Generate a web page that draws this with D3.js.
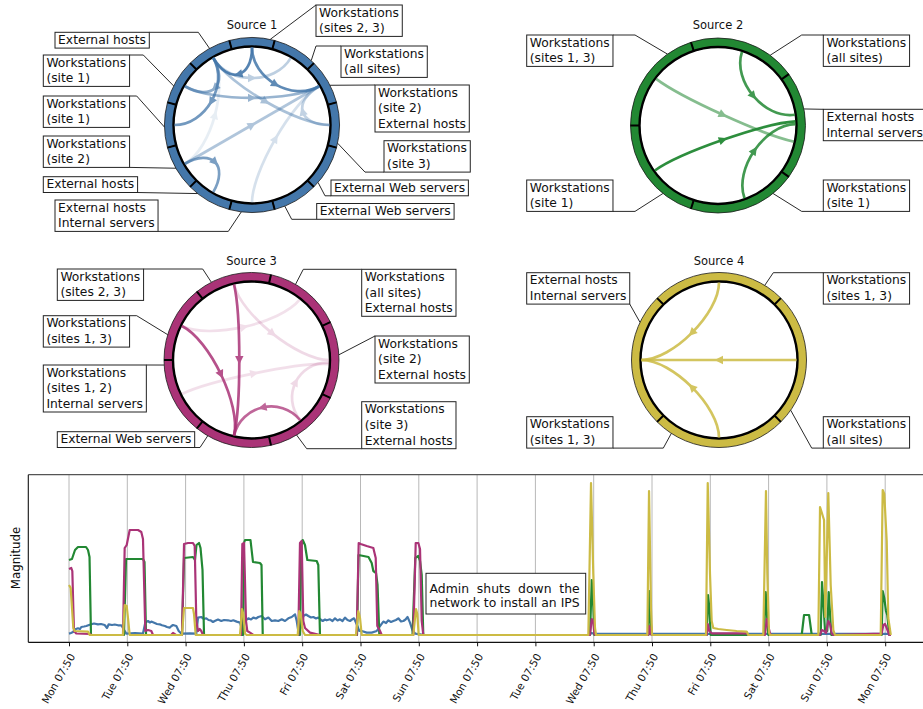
<!DOCTYPE html>
<html><head><meta charset="utf-8">
<script src="https://cdn.jsdelivr.net/npm/d3@7"></script>
<style>
body{margin:0;background:#fff}
svg{display:block;font-family:"DejaVu Sans",sans-serif}
</style>
</head><body>
<svg id="c" width="923" height="709"></svg>
<script>
// ================= DATA =================
const sourceTitles = ["Source 1","Source 2","Source 3","Source 4"];
const sourceColors = ["#4477AA","#228833","#AA3377","#CCBB44"];

// ring segment labels, clockwise from the top segment ("|" = line break)
const ringLabels1 = ["Workstations|(sites 2, 3)","Workstations|(all sites)","Workstations|(site 2)|External hosts",
  "Workstations|(site 3)","External Web servers","External Web servers","External hosts|Internal servers",
  "External hosts","Workstations|(site 2)","Workstations|(site 1)","Workstations|(site 1)","External hosts"];
const ringLabels2 = ["Workstations|(all sites)","External hosts|Internal servers","Workstations|(site 1)",
  "Workstations|(site 1)","Workstations|(sites 1, 3)"];
const ringLabels3 = ["Workstations|(sites 2, 3)","Workstations|(all sites)|External hosts","Workstations|(site 2)|External hosts",
  "Workstations|(site 3)|External hosts","External Web servers","Workstations|(sites 1, 2)|Internal servers","Workstations|(sites 1, 3)"];
const ringLabels4 = ["Workstations|(sites 1, 3)","Workstations|(all sites)","Workstations|(sites 1, 3)","External hosts|Internal servers"];

// flows: [from angle (deg), to angle (deg), strength 0..1]
const flows1 = [[240,330,0.12],[180,60,0.22],[90,60,0.32],[330,30,0.35],[240,60,0.42],[330,90,0.45],
  [300,60,0.55],[330,300,0.6],[240,210,0.7],[330,270,0.75],[0,60,0.85],[0,330,0.9]];
const flows2 = [[307,102,0.55],[18,82,0.85],[160,89,0.85],[234.5,87,0.95]];
const flows3 = [[296,38.6,0.15],[347,90,0.18],[244,93,0.15],[141,92,0.18],[141,193,0.75],[296,193,0.85],[347,193,0.85]];
const flows4 = [[0,270,0.85],[90,270,0.85],[180,270,0.85]];

// time series: [days since first Mon 07:50, magnitude]
const dayNames = ["Mon","Tue","Wed","Thu","Fri","Sat","Sun","Mon","Tue","Wed","Thu","Fri","Sat","Sun","Mon"];
const tickClock = "07:50";
const tickDays = [0,1,2,3,4,5,6,7,8,9,10,11,12,13,14];
const yLabel = "Magnitude";
const annotationLines = ["Admin shuts down the","network to install an IPS"];

const seriesSource1 = [[0,1.4],[0.034,2],[0.069,3],[0.108,5.7],[0.154,6.7],[0.189,6],[0.211,8],[0.257,8.5],[0.297,9],
 [0.343,10],[0.383,10.7],[0.429,11.5],[0.497,10.7],[0.549,11],[0.612,10],[0.652,7],[0.681,10.7],[0.738,10],[0.784,10.5],
 [0.84,9.7],[0.897,9.7],[0.938,5.7],[0.983,1.4],[1.132,2],[1.269,1.4],[1.309,12.4],[1.355,14],[1.389,12.5],[1.412,13.4],
 [1.47,12],[1.509,11],[1.556,10.7],[1.595,9.7],[1.646,9],[1.681,8],[1.727,7.4],[1.758,9],[1.784,10],[1.841,9],[1.882,4],
 [1.926,1.4],[2.076,1.6],[2.184,1.4],[2.213,17.4],[2.269,18],[2.316,16],[2.355,16.7],[2.393,15],[2.431,14.7],[2.47,13],
 [2.499,14],[2.556,15.5],[2.612,14],[2.659,15],[2.727,14.7],[2.779,14],[2.818,14.7],[2.876,13.4],[2.933,12.4],[2.98,3.4],
 [3.019,14],[3.076,16.7],[3.122,15.5],[3.161,17.4],[3.208,16.5],[3.247,18],[3.305,19],[3.362,15.7],[3.42,17.4],[3.477,14],
 [3.534,14.7],[3.59,14],[3.649,15.7],[3.705,14],[3.762,16.7],[3.82,18],[3.877,20.7],[3.906,14],[3.933,4],[3.974,7.4],
 [4.019,19],[4.065,20.5],[4.105,19],[4.151,17.5],[4.191,18],[4.237,16.5],[4.276,17.4],[4.314,15.5],[4.352,14],[4.391,15.5],
 [4.42,14.7],[4.477,15.7],[4.52,14],[4.563,16.7],[4.606,14.5],[4.648,15.7],[4.691,14],[4.734,17.4],[4.777,15],[4.82,14],
 [4.854,15.5],[4.889,16.7],[4.935,10.7],[4.98,4],[5.021,4],[5.106,2.4],[5.192,2.4],[5.278,4],[5.335,9],[5.392,13.4],
 [5.438,12],[5.478,14.7],[5.523,13],[5.563,14],[5.609,15],[5.649,16.7],[5.695,13.5],[5.735,14],[5.772,15.5],[5.807,18],
 [5.849,12.4],[5.895,4],[5.94,1.4],[6.021,0.7],[6.107,0],[8.903,0],[8.937,1],[8.962,2],[9.005,1.2],[14.1,1.2]];

const seriesSource2 = [[0,75],[0.051,76],[0.103,85],[0.154,88],[0.292,88],[0.326,85],[0.352,78],[0.377,0],
 [0.943,0],[0.978,76],[1.269,76],[1.295,73],[1.321,0],
 [1.938,0],[1.973,77],[2.127,78],[2.161,75],[2.187,90],[2.23,92],[2.256,87],[2.29,65],[2.316,0],
 [2.985,0],[3.002,92],[3.019,95],[3.113,95],[3.156,73],[3.276,72],[3.302,70],[3.323,0],
 [3.962,0],[3.985,90],[4.009,95],[4.048,90],[4.088,75],[4.249,74],[4.276,70],[4.305,0],
 [4.94,0],[4.966,80],[5.137,78],[5.192,72],[5.22,64],[5.266,62],[5.292,50],[5.323,0],
 [5.892,0],[5.94,77],[5.992,79],[6.021,74],[6.05,60],[6.077,0],
 [8.937,0],[8.966,55],[8.993,28],[9.01,0],
 [9.937,0],[9.954,44],[9.978,14],[9.995,0],
 [10.939,0],[10.961,40],[10.983,28],[11.007,0],
 [11.921,0],[11.951,43],[11.978,15],[11.995,0],
 [12.568,0],[12.608,20],[12.694,20],[12.74,0],
 [12.894,0],[12.916,53],[12.938,34],[12.968,4],[13.007,4],[13.031,43],[13.054,21],[13.076,0],
 [13.94,0],[13.957,44],[13.984,37],[14.013,24],[14.035,20],[14.07,0],[14.1,0]];

const seriesSource3 = [[0,66],[0.039,67],[0.057,64],[0.074,27],[0.086,4],[0.125,1.5],[0.355,1],[0.383,0],
 [0.926,0],[0.955,87],[0.99,90],[1.041,105],[1.184,105],[1.24,103],[1.269,96],[1.309,4],[1.355,5],[1.412,4],[1.441,0],
 [1.75,0],[1.784,2],[1.835,0],
 [1.938,0],[1.973,91],[2.041,92],[2.127,92],[2.156,89],[2.184,14],[2.213,4],[2.242,6],[2.269,4],[2.299,0],
 [2.95,0],[2.973,91],[3.002,92],[3.036,14],[3.058,4],[3.105,2.4],[3.161,0],
 [3.933,0],[3.962,92],[3.991,94],[4.019,14],[4.048,7],[4.134,2.4],[4.305,0],
 [4.935,0],[4.969,92],[5.003,91],[5.106,89],[5.22,87],[5.261,77],[5.288,9],[5.335,4],[5.364,0],
 [5.906,0],[5.947,92],[5.992,92],[6.021,86],[6.05,14],[6.077,0],
 [8.937,0],[8.966,16],[8.993,14],[9.01,1.4],[9.028,0],
 [9.937,0],[9.954,9],[9.978,1.4],[9.995,0],
 [10.939,0],[10.956,11],[10.983,4],[11.024,1.7],[11.624,1.7],[11.652,0],
 [11.938,0],[11.968,16],[11.995,9],[12.024,1.4],[12.053,0],
 [12.882,0],[12.911,5],[12.951,4],[12.985,2],[13.024,14],[13.054,11],[13.083,1.4],[13.11,0],
 [13.94,1.4],[13.968,10],[13.997,11],[14.026,7],[14.07,0],[14.1,0]];

const seriesSource4 = [[0,50],[0.029,47],[0.051,27],[0.074,7],[0.098,4],[0.326,3.4],[0.355,0],
 [0.926,0],[0.955,30],[0.99,29],[1.012,17],[1.041,0],
 [1.938,0],[1.973,27],[2.041,27],[2.127,27],[2.144,21],[2.173,0],
 [2.933,0],[2.967,26],[2.99,21],[3.019,1.4],[3.048,0],
 [3.923,0],[3.95,24],[3.974,21],[4.009,4],[4.048,0],
 [4.923,0],[4.962,24],[4.992,17],[5.021,0],
 [5.906,0],[5.952,26],[5.974,21],[5.998,0],
 [8.908,0],[8.954,152],[8.993,61],[9.022,7],[9.04,0],
 [9.92,0],[9.949,144],[9.983,27],[10.001,0],
 [10.926,0],[10.956,152],[10.995,61],[11.024,14],[11.051,7],[11.137,6],[11.281,5],[11.453,4],[11.624,3.4],[11.652,0],
 [11.909,0],[11.955,144],[11.978,61],[12.007,2.4],[12.024,0],
 [12.853,0],[12.882,128],[12.951,115],[12.973,18],[13.024,142],[13.065,50],[13.11,5],[13.139,0],
 [13.923,0],[13.957,145],[13.984,141],[14.026,94],[14.053,17],[14.096,0]];

// ================= LAYOUT =================
// label box layout per segment: [boxLeft, boxTop, attach corner, knee x (or null), ring angle]
const labelLayout1 = [[316,5,"tl",null,12],[341,46,"tl",316,42.6],[375,85,"tl",null,63],[384,140.7,"bl",365,102],
  [331,180,"bl",325,131],[316.7,203.5,"bl",291.7,158],[55,200,"br",228.3,187],[43.3,176.7,"br",null,218.4],
  [43.3,136,"br",null,240.4],[43.3,96,"tr",136.7,268.6],[43.3,55,"tr",143.3,296.5],[55,32.3,"tr",198.3,331]];
const labelLayout2 = [[823.3,35,"tl",801.7,36.6],[823.3,109.3,"tl",null,79.1],[823.3,180,"bl",801.7,141],
  [526.7,180,"br",635,219],[526.7,35,"tr",635,324.7]];
const labelLayout3 = [[57.3,269,"tr",202.7,332.7],[361.7,269.3,"tl",303.3,30.2],[375,336,"tl",null,86.6],
  [361.7,401.7,"bl",306.7,149],[57.3,431.7,"br",200,210],[43.3,365,"tr",null,266.7],[43.3,315.7,"tr",136.7,286.8]];
const labelLayout4 = [[823.3,272.7,"tl",773.3,31.5],[823.3,416.7,"bl",811.7,125],[526.7,416.7,"br",663.3,213],
  [526.7,272.7,"br",null,295.5]];

const circles = [
  {cx:252, cy:125, titleY:29, startDiv:-15, labels:ringLabels1, layout:labelLayout1, flows:flows1},
  {cx:718, cy:125.5, titleY:29, startDiv:-18, labels:ringLabels2, layout:labelLayout2, flows:flows2},
  {cx:251.5, cy:360, titleY:264.5, startDiv:-38.571, labels:ringLabels3, layout:labelLayout3, flows:flows3},
  {cx:719, cy:360, titleY:264.5, startDiv:-45, labels:ringLabels4, layout:labelLayout4, flows:flows4}
];

const svg = d3.select("#c");
const R_OUT = 87.5, R_IN = 78.5, R_EDGE = 77.5, K = 0.6;
const rad = d => d*Math.PI/180;

function drawChord(c, idx){
  const color = sourceColors[idx];
  const g = svg.append("g");
  const pt = (a,r) => [c.cx + r*Math.sin(rad(a)), c.cy - r*Math.cos(rad(a))];
  const n = c.labels.length, step = 360/n;

  g.append("text").attr("x",c.cx).attr("y",c.titleY).attr("text-anchor","middle")
    .attr("font-size","11.5px").attr("fill","#111").text(sourceTitles[idx]);

  const leadG = g.append("g"), boxG = g.append("g");
  c.layout.forEach((L,i) => {
    const [bx,by,corner,knee,ang] = L;
    const lines = c.labels[i].split("|");
    const lg = boxG.append("g");
    const texts = lines.map((s,j) => lg.append("text").attr("x",bx+3.1).attr("y",by+11.7+j*15.6)
        .attr("font-size","12.3px").attr("fill","#111").text(s));
    const w = d3.max(texts, t => t.node().getComputedTextLength()) + 6.4;
    const h = lines.length*15.6 + 0.2;
    lg.insert("rect","text").attr("x",bx).attr("y",by).attr("width",w).attr("height",h)
      .attr("fill","#fff").attr("stroke","#222").attr("stroke-width",1);
    const px = corner[1]==="l" ? bx : bx+w;
    const py = corner[0]==="t" ? by : by+h;
    const pts = [[px,py]];
    if (knee !== null) pts.push([knee,py]);
    pts.push(pt(ang,R_OUT));
    leadG.append("polyline").attr("points",pts.map(p=>p.join(",")).join(" "))
      .attr("fill","none").attr("stroke","#111").attr("stroke-width",0.9);
  });

  const arc = d3.arc().innerRadius(R_IN).outerRadius(R_OUT);
  const segs = d3.range(n).map(i => ({startAngle: rad(c.startDiv + i*step), endAngle: rad(c.startDiv + (i+1)*step)}));
  const ring = g.append("g").attr("transform",`translate(${c.cx},${c.cy})`);
  ring.selectAll("path.seg").data(segs).join("path").attr("class","seg").attr("d",arc)
    .attr("fill",color).attr("stroke","#1a1a1a").attr("stroke-width",0.8);
  ring.append("circle").attr("r",R_IN).attr("fill","none").attr("stroke","#000").attr("stroke-width",2.4);
  ring.selectAll("line.div").data(segs).join("line").attr("class","div")
    .attr("x1",d=>R_IN*Math.sin(d.startAngle)).attr("y1",d=>-R_IN*Math.cos(d.startAngle))
    .attr("x2",d=>R_OUT*Math.sin(d.startAngle)).attr("y2",d=>-R_OUT*Math.cos(d.startAngle))
    .attr("stroke","#000").attr("stroke-width",2);

  const fg = g.append("g");
  c.flows.forEach(f => {
    const [a0,a1,s] = f;
    const A = pt(a0,R_EDGE), B = pt(a1,R_EDGE);
    const P1 = [c.cx + K*(A[0]-c.cx), c.cy + K*(A[1]-c.cy)];
    const P2 = [c.cx + K*(B[0]-c.cx), c.cy + K*(B[1]-c.cy)];
    const eg = fg.append("g").attr("opacity", s);
    eg.append("path").attr("d",`M${A}C${P1} ${P2} ${B}`).attr("fill","none")
      .attr("stroke",color).attr("stroke-width",2.7);
    const m = [(A[0]+3*P1[0]+3*P2[0]+B[0])/8, (A[1]+3*P1[1]+3*P2[1]+B[1])/8];
    let tx = B[0]+P2[0]-P1[0]-A[0], ty = B[1]+P2[1]-P1[1]-A[1];
    const L = Math.hypot(tx,ty); tx/=L; ty/=L;
    const nx = -ty, ny = tx;
    const tip = [m[0]+tx*4.5, m[1]+ty*4.5];
    const b1 = [m[0]-tx*4+nx*4.2, m[1]-ty*4+ny*4.2];
    const b2 = [m[0]-tx*4-nx*4.2, m[1]-ty*4-ny*4.2];
    eg.append("path").attr("d",`M${tip}L${b1}L${b2}Z`).attr("fill",color);
  });
}
circles.forEach(drawChord);

// ================= TIME SERIES =================
const plot = {left:28.3, right:935, top:474.7, bottom:642.3};
const x = d3.scaleLinear().domain([0,14]).range([69,885.2]);
const y = d3.scaleLinear().domain([-7.3,160.3]).range([plot.bottom, plot.top]);
const ts = svg.append("g");
svg.append("defs").append("clipPath").attr("id","pc").append("rect")
  .attr("x",plot.left).attr("y",plot.top).attr("width",plot.right-plot.left).attr("height",plot.bottom-plot.top);

ts.append("g").selectAll("line").data(tickDays).join("line")
  .attr("x1",d=>x(d)).attr("x2",d=>x(d)).attr("y1",plot.top).attr("y2",plot.bottom)
  .attr("stroke","#b8b8b8").attr("stroke-width",1);

const line = d3.line().x(d=>x(d[0])).y(d=>y(d[1]));
const sg = ts.append("g").attr("clip-path","url(#pc)");
[seriesSource1, seriesSource2, seriesSource3, seriesSource4].forEach((s,i) => {
  sg.append("path").datum(s).attr("d",line).attr("fill","none").attr("stroke",sourceColors[i])
    .attr("stroke-width",2.2).attr("stroke-linejoin","round");
});

ts.append("line").attr("x1",plot.left).attr("x2",plot.right).attr("y1",plot.top).attr("y2",plot.top)
  .attr("stroke","#555").attr("stroke-width",1.2);
ts.append("line").attr("x1",plot.left).attr("x2",plot.left).attr("y1",plot.top).attr("y2",plot.bottom)
  .attr("stroke","#111").attr("stroke-width",1.1);
ts.append("line").attr("x1",plot.left).attr("x2",plot.right).attr("y1",plot.bottom).attr("y2",plot.bottom)
  .attr("stroke","#111").attr("stroke-width",1.3);

const ax = ts.append("g").attr("transform",`translate(0,${plot.bottom})`)
  .call(d3.axisBottom(x).tickValues(tickDays).tickSize(4).tickFormat(i => dayNames[i]+" "+tickClock));
ax.select(".domain").remove();
ax.selectAll(".tick line").attr("stroke","#111");
ax.selectAll(".tick text").attr("x",0).attr("y",0).attr("dy",0)
  .attr("text-anchor","end").attr("transform","translate(6,14) rotate(-60)")
  .attr("font-size","10.5px").attr("font-family","DejaVu Sans").attr("fill","#111");

ts.append("text").attr("transform","translate(19.5,558) rotate(-90)").attr("text-anchor","middle")
  .attr("font-size","11.8px").attr("fill","#111").text(yLabel);

const an = ts.append("g");
an.append("rect").attr("x",426).attr("y",573.3).attr("width",159.7).attr("height",40.7)
  .attr("fill","#fff").attr("stroke","#222").attr("stroke-width",1);
const ax0 = 429.6;
const l2 = an.append("text").attr("x",ax0).attr("y",606.8).attr("font-size","12.4px").attr("fill","#111").text(annotationLines[1]);
const fullW = l2.node().getComputedTextLength();
const words = annotationLines[0].split(" ");
const wEls = words.map(wd => an.append("text").attr("y",593.2).attr("font-size","12.4px").attr("fill","#111").text(wd));
const ww = wEls.map(e => e.node().getComputedTextLength());
const gap = (fullW - d3.sum(ww)) / (words.length-1);
let cur = ax0;
wEls.forEach((e,i) => { e.attr("x",cur); cur += ww[i] + gap; });
</script>
</body></html>
